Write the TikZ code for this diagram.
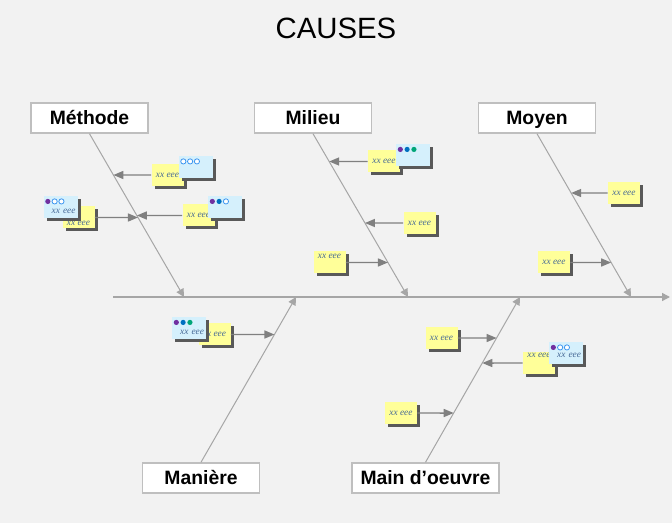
\documentclass[tikz,border=0pt]{standalone}
\usepackage{fontspec}
\setmainfont{Liberation Sans}
\newfontfamily\notefont{Liberation Serif}
\usetikzlibrary{arrows.meta,shadows,calc}
\definecolor{bgc}{RGB}{242,242,242}
\definecolor{bonec}{RGB}{166,166,166}
\definecolor{linkc}{RGB}{128,128,128}
\definecolor{boxc}{RGB}{191,191,191}
\definecolor{yelc}{RGB}{255,255,153}
\definecolor{bluc}{RGB}{213,240,252}
\definecolor{shdc}{RGB}{89,89,89}
\definecolor{txtc}{RGB}{70,105,150}
\definecolor{dotp}{RGB}{112,48,160}
\definecolor{dotb}{RGB}{0,112,192}
\definecolor{dotg}{RGB}{0,166,120}
\definecolor{doto}{RGB}{60,150,240}
\begin{document}
\begin{tikzpicture}[x=0.75pt, y=-0.75pt,
  cat/.style={draw=boxc, line width=1.1pt, fill=white, minimum width=87.75pt, minimum height=22.5pt,
    inner ysep=0pt, text height=10.4pt, text depth=0pt, font=\fontsize{14.5}{16}\selectfont\bfseries},
  note/.style={minimum width=24pt, minimum height=16.5pt, inner sep=0pt, text=txtc,
    text height=3.2pt, text depth=0pt, font=\notefont\itshape\fontsize{7}{8}\selectfont,
    general shadow={fill=shdc, shadow xshift=2.25pt, shadow yshift=-2.25pt}},
  yel/.style={note, fill=yelc},
  blu/.style={note, fill=bluc, minimum width=25.5pt, text width=22.5pt, align=right, text height=9pt},
  mid/.style={}, top/.style={text depth=8.5pt}, high/.style={text depth=12pt},
  low/.style={text height=11.4pt}, lift/.style={text height=5.4pt},
  bone/.style={draw=bonec, line width=0.75pt, -{Triangle[length=6pt, width=6pt]}},
  link/.style={draw=linkc, line width=1.1pt, -{Triangle[length=7.5pt, width=6pt]}},
  dot-p/.style={fill=dotp}, dot-b/.style={fill=dotb}, dot-g/.style={fill=dotg},
  dot-o/.style={draw=doto, fill=white, line width=0.6pt}]
  \fill[bgc] (0,0) rectangle (672,523);
  \node[font=\fontsize{22}{26}\selectfont, anchor=base] (title) at (336,38.3) {CAUSES};

  \foreach \n/\x/\y/\lab in {mth/89.5/118/Méthode, mil/313/118/Milieu, moy/537/118/Moyen, man/201/478/Manière}
    \node[cat] (\n) at (\x,\y) {\lab};
  \node[cat, minimum width=110.25pt] (mdo) at (425.5,478) {Main d’oeuvre};

  % bones: top ones leave the box bottom, lower ones the box top
  \foreach \n/\ex in {mth/184, mil/408, moy/631} {
    \coordinate (\n-a) at (\n.south);
    \coordinate (\n-b) at (\ex,297);
  }
  \foreach \n/\ex in {man/296, mdo/520} {
    \coordinate (\n-a) at (\n.north);
    \coordinate (\n-b) at (\ex,297);
  }
  \coordinate (tail) at (113,297);
  \coordinate (head) at (670,297);
  \draw[bone, line width=1.1pt] (tail) -- (head);
  \foreach \n in {mth,mil,moy,man,mdo} \draw[bone] (\n-a) -- (\n-b);

  \foreach \n/\x/\y/\pos in {ya/167.5/175/mid, yb/198.5/215.5/mid, yc/78.5/217.5/low, yd/384/161.5/mid,
      ye/419.5/223/mid, yf/329.5/262.5/top, yg/624/193/mid, yh/554/262.5/mid,
      yi/214.5/334.5/mid, yj/441.5/338/mid, yk/539/363/high, yl/401/413/mid}
    \node[yel, \pos] (\n) at (\x,\y) {xx eee};
  \foreach \n/\x/\y/\pos/\txt in {ba/196/167.5/mid/{}, bb/225/207.5/mid/{}, bc/60.5/207.5/mid/{xx eee},
      bd/413/155.5/mid/{}, be/189/328.5/mid/{xx eee}, bf/566/353.5/lift/{xx eee}}
    \node[blu, \pos] (\n) at (\x,\y) {\txt};
  \foreach \n/\da/\db/\dc in {ba/o/o/o, bb/p/b/o, bc/p/o/o, bd/p/b/g, be/p/b/g, bf/p/o/o}
    \foreach \dd [count=\i] in {\da,\db,\dc}
      \path[dot-\dd] ($(\n.north west)+(6.8*\i-2.2,5.2)$) circle[radius=2.6];

  \foreach \n/\sd/\bn in {ya/west/mth, yb/west/mth, yc/east/mth, yd/west/mil, ye/west/mil, yf/east/mil,
      yg/west/moy, yh/east/moy, yi/east/man, yj/east/mdo, yk/west/mdo, yl/east/mdo}
    \draw[link] (\n.\sd) -- (intersection of \n.west--\n.east and \bn-a--\bn-b);
\end{tikzpicture}
\end{document}
